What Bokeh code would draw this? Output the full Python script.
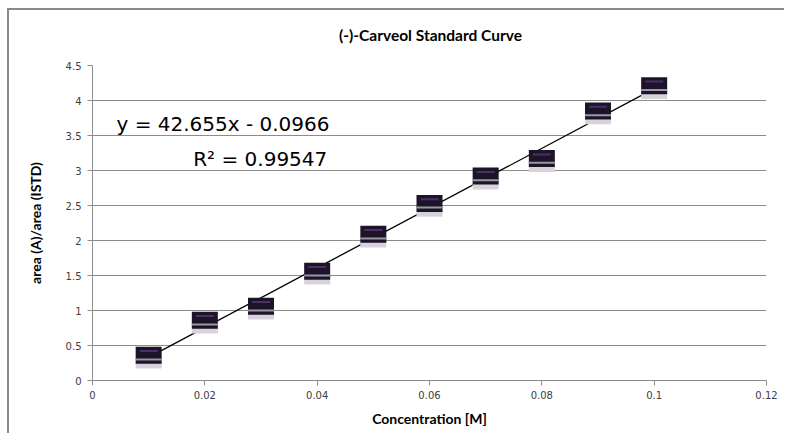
from bokeh.plotting import figure
from bokeh.layouts import column
from bokeh.models import ColumnDataSource, Label, FixedTicker, Range1d, Div
from bokeh.transform import dodge
from bokeh.embed import file_html
from bokeh.resources import INLINE

# data
conc = [0.01, 0.02, 0.03, 0.04, 0.05, 0.06, 0.07, 0.08, 0.09, 0.10]
ratio = [0.35, 0.85, 1.05, 1.55, 2.08, 2.52, 2.91, 3.16, 3.84, 4.20]
slope = 42.655
intercept = -0.0966
title_text = "(-)-Carveol Standard Curve"
y_title = "area (A)/area (ISTD)"
x_title = "Concentration [M]"
eq_text = "y = 42.655x - 0.0966"
r2_text = "R² = 0.99547"
x_ticks = [0, 0.02, 0.04, 0.06, 0.08, 0.1, 0.12]
x_labels = ["0", "0.02", "0.04", "0.06", "0.08", "0.1", "0.12"]
y_ticks = [0, 0.5, 1, 1.5, 2, 2.5, 3, 3.5, 4, 4.5]
y_labels = ["0", "0.5", "1", "1.5", "2", "2.5", "3", "3.5", "4", "4.5"]

title_div = Div(
    text=f'<div style="font-family: Lato; font-weight: bold; font-size: 15.5px; '
         f'color: #000; text-align: center; width: 775px; padding-left: 68px; box-sizing: border-box; '
         f'padding-top: 16px; line-height: 18px; white-space: nowrap;">{title_text}</div>',
    width=775, height=45, margin=0)

p = figure(width=775, height=378, output_backend="svg", toolbar_location=None,
           x_range=Range1d(0, 0.12), y_range=Range1d(0, 4.5),
           min_border_left=83, min_border_top=10, min_border_right=18, min_border_bottom=53,
           margin=0)

p.outline_line_color = None
p.xgrid.grid_line_color = None
p.ygrid.grid_line_color = "#8c8c8c"
p.ygrid.grid_line_width = 1
p.background_fill_color = "white"

for ax in (p.xaxis[0], p.yaxis[0]):
    ax.axis_line_color = "#8c8c8c"
    ax.major_tick_line_color = "#8c8c8c"
    ax.minor_tick_line_color = None
    ax.major_tick_in = 0
    ax.major_tick_out = 5
    ax.major_label_text_font = "DejaVu Sans"
    ax.major_label_text_font_size = "10px"
    ax.major_label_text_color = "#404040"
    ax.axis_label_text_font = "Lato"
    ax.axis_label_text_font_style = "bold"
    ax.axis_label_text_font_size = "14px"
    ax.axis_label_text_color = "#000000"

p.xaxis.ticker = FixedTicker(ticks=x_ticks)
p.xaxis.major_label_overrides = {t: l for t, l in zip(x_ticks, x_labels)}
p.yaxis.ticker = FixedTicker(ticks=y_ticks)
p.yaxis.major_label_overrides = {t: l for t, l in zip(y_ticks, y_labels)}
p.xaxis.axis_label = x_title
p.yaxis.axis_label = y_title
p.xaxis.axis_label_standoff = 8
p.yaxis.axis_label_standoff = 19
p.yaxis.major_label_standoff = 6

src = ColumnDataSource(dict(x=conc, y=ratio))

# trendline
x0, x1 = conc[0], conc[-1]
p.line([x0, x1], [slope * x0 + intercept, slope * x1 + intercept], line_color="black", line_width=1.3)

# markers (image-like blocks)
p.rect(x="x", y=dodge("y", -0.13, range=p.y_range), width=26, height=7,
       width_units="screen", height_units="screen", source=src,
       fill_color="#d6d4da", line_color=None)
p.rect(x="x", y=dodge("y", 0.01, range=p.y_range), width=26, height=17,
       width_units="screen", height_units="screen", source=src,
       fill_color="#1d1428", line_color=None)
p.rect(x="x", y=dodge("y", -0.05, range=p.y_range), width=26, height=2,
       width_units="screen", height_units="screen", source=src,
       fill_color="#9a96a8", line_color=None)
p.rect(x="x", y=dodge("y", 0.07, range=p.y_range), width=18, height=2,
       width_units="screen", height_units="screen", source=src,
       fill_color="#4a2f6a", line_color=None)

p.add_layout(Label(x=0.0422, y=3.66, text=eq_text, text_align="right", text_baseline="middle",
                   text_font="DejaVu Sans", text_font_size="20px", text_color="#000000"))
p.add_layout(Label(x=0.0418, y=3.16, text=r2_text, text_align="right", text_baseline="middle",
                   text_font="DejaVu Sans", text_font_size="20px", text_color="#000000"))

layout = column(title_div, p, spacing=0, margin=0)
layout.styles = {"border-left": "2px solid #8a8a8a", "border-top": "2px solid #8a8a8a",
                 "margin-left": "7px", "margin-top": "8px", "background": "white"}

open("out.html", "w").write(file_html(layout, INLINE))
